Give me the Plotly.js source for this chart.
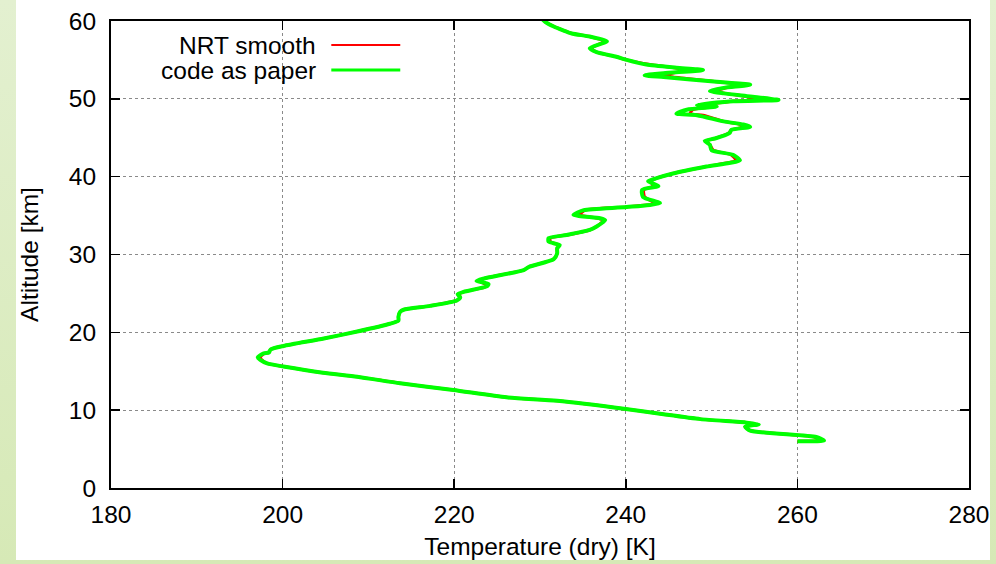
<!DOCTYPE html>
<html>
<head>
<meta charset="utf-8">
<script src="https://cdn.plot.ly/plotly-3.0.1.min.js"></script>
<style>
  html, body { margin: 0; padding: 0; width: 996px; height: 564px; overflow: hidden;
    background: linear-gradient(to bottom, #e3f0d0 0%, #d6e9b6 100%); }
  #plot { position: absolute; left: 16px; top: 0px; width: 974px; height: 560px; background: #ffffff; }
</style>
</head>
<body>
<div id="plot"></div>
<script>
// Altitude levels [km]
const altitude = [6.0, 6.1, 6.55, 7.36, 7.88, 8.18, 8.4, 8.85, 9.47, 10.15,
  11.2, 11.65, 12.6, 13.45, 14.3, 14.8, 15.6, 16.0, 16.45, 16.8,
  17.3, 17.4, 17.8, 18.25, 19.2, 20.1, 21.1, 21.5, 22.0, 22.65,
  22.9, 23.4, 24.1, 24.5, 24.9, 25.2, 25.9, 26.2, 26.6, 26.9,
  28.0, 28.4, 29.4, 30.15, 30.8, 31.2, 31.65, 32.1, 32.5, 33.15,
  33.6, 34.4, 34.65, 35.1, 35.7, 36.1, 36.6, 37.4, 38.3, 38.8,
  39.4, 39.8, 40.4, 41.3, 42.1, 42.8, 43.4, 44.1, 44.6, 44.9,
  45.6, 46.0, 46.4, 46.7, 47.1, 47.9, 48.1, 48.6, 49.0, 49.2,
  49.7, 49.85, 50.3, 50.7, 51.0, 51.4, 51.8, 52.2, 52.8, 53.0,
  53.3, 53.7, 54.0, 54.4, 55.0, 55.4, 56.0, 56.5, 57.4, 58.0,
  58.4, 58.8, 59.3, 59.9, 60.2];

// "code as paper" temperature [K]
const tempPaper = [260.0, 263.1, 262.2, 254.5, 253.9, 255.5, 254.1, 248.7, 244.4, 240.0,
  232.0, 226.1, 219.9, 213.7, 208.7, 204.7, 200.1, 198.2, 197.4, 197.1,
  197.8, 198.4, 198.6, 200.1, 204.8, 208.7, 212.5, 213.5, 213.5, 213.7,
  214.1, 217.2, 220.3, 220.7, 220.4, 221.1, 223.8, 224.0, 222.6, 223.4,
  228.1, 228.7, 231.6, 232.0, 232.0, 232.3, 231.0, 231.0, 233.1, 235.8,
  236.6, 237.6, 237.0, 233.9, 235.1, 240.1, 244.0, 242.0, 241.9, 243.8,
  242.6, 243.6, 245.5, 249.4, 253.3, 252.5, 250.0, 249.8, 249.2, 250.4,
  252.1, 252.3, 254.5, 253.7, 251.4, 248.3, 245.9, 247.1, 250.6, 248.3,
  252.5, 257.8, 254.5, 251.4, 249.8, 251.4, 254.5, 250.6, 244.4, 242.2,
  244.4, 249.0, 245.9, 242.4, 240.1, 238.9, 236.6, 235.8, 237.8, 235.8,
  233.7, 232.7, 231.6, 230.6, 230.3];

// "NRT smooth" temperature [K]
const tempNRT = [260.0, 262.5, 262.0, 254.5, 253.9, 255.2, 254.1, 248.7, 244.4, 240.0,
  232.0, 226.1, 219.9, 213.7, 208.7, 204.7, 200.1, 198.2, 197.6, 197.4,
  197.9, 198.4, 198.6, 200.1, 204.8, 208.7, 212.5, 213.5, 213.5, 213.7,
  214.1, 217.2, 220.3, 220.7, 220.6, 221.1, 223.8, 223.6, 223.0, 223.4,
  228.1, 228.7, 231.6, 232.0, 232.0, 232.2, 231.2, 231.2, 233.1, 235.8,
  236.6, 237.4, 236.8, 234.6, 235.3, 240.1, 243.3, 242.2, 242.1, 243.2,
  242.9, 243.6, 245.5, 249.4, 252.8, 252.3, 250.2, 249.8, 249.4, 250.4,
  252.0, 252.3, 253.8, 253.4, 251.4, 249.0, 247.5, 247.8, 250.0, 249.3,
  252.5, 255.5, 254.0, 251.6, 250.5, 251.6, 253.5, 250.6, 245.5, 244.4,
  245.5, 247.0, 245.6, 242.8, 240.1, 238.9, 236.6, 236.0, 237.5, 235.8,
  233.7, 232.7, 231.6, 230.6, 230.3];

const xTicks = [180, 200, 220, 240, 260, 280];
const yTicks = [0, 10, 20, 30, 40, 50, 60];
const seriesNames = ['NRT smooth', 'code as paper'];
const seriesColors = ['#ff0000', '#00ff00'];

const FONT = 'Liberation Sans, Arial, Helvetica, sans-serif';
const FS = 24.5;

const traces = [
  { x: tempNRT, y: altitude, mode: 'lines', name: seriesNames[0],
    line: { color: seriesColors[0], width: 3, shape: 'spline', smoothing: 0.6 } },
  { x: tempPaper, y: altitude, mode: 'lines', name: seriesNames[1],
    line: { color: seriesColors[1], width: 4, shape: 'spline', smoothing: 0.6 } }
];

const axisCommon = {
  showline: true, linecolor: '#000000', linewidth: 2, mirror: 'ticks',
  ticks: 'inside', ticklen: 9, tickwidth: 1.5, tickcolor: '#000000',
  showgrid: true, gridcolor: '#8a8a8a', gridwidth: 1, griddash: 'dot',
  zeroline: false, tickfont: { family: FONT, size: FS, color: '#000000' }
};

// Legend drawn gnuplot-style: text right-aligned, sample to the right
const legendRowsY = [45, 70];           // pixel rows in the 996x564 page
const plotTop = 21, plotBottom = 488, plotLeft = 110.6, plotRight = 969;
const toPY = py => (plotBottom - py) / (plotBottom - plotTop);
const toPX = px => (px - plotLeft) / (plotRight - plotLeft);

const annotations = seriesNames.map((n, i) => ({
  xref: 'paper', yref: 'paper', x: toPX(318), y: toPY(legendRowsY[i]),
  xanchor: 'right', yanchor: 'middle', text: n, showarrow: false,
  font: { family: FONT, size: FS, color: '#000000' }
}));
const shapes = seriesNames.map((n, i) => ({
  type: 'line', xref: 'paper', yref: 'paper',
  x0: toPX(331), x1: toPX(400), y0: toPY(legendRowsY[i]), y1: toPY(legendRowsY[i]),
  line: { color: seriesColors[i], width: i === 0 ? 2 : 3 }
}));

const layout = {
  width: 974, height: 560,
  margin: { l: 94.6, r: 21, t: 21, b: 72 },
  paper_bgcolor: '#ffffff', plot_bgcolor: '#ffffff',
  showlegend: false,
  xaxis: Object.assign({}, axisCommon, {
    range: [180, 280], tickvals: xTicks, ticktext: xTicks.map(String),
    ticklabelstandoff: 4,
    title: { text: 'Temperature (dry) [K]', font: { family: FONT, size: FS, color: '#000000' }, standoff: 16 }
  }),
  yaxis: Object.assign({}, axisCommon, {
    range: [0, 60], tickvals: yTicks, ticktext: yTicks.map(String),
    ticklabelstandoff: 8,
    title: { text: 'Altitude [km]', font: { family: FONT, size: FS, color: '#000000' }, standoff: 34 }
  }),
  annotations: annotations,
  shapes: shapes
};

Plotly.newPlot('plot', traces, layout, { displayModeBar: false, staticPlot: true });
</script>
</body>
</html>
